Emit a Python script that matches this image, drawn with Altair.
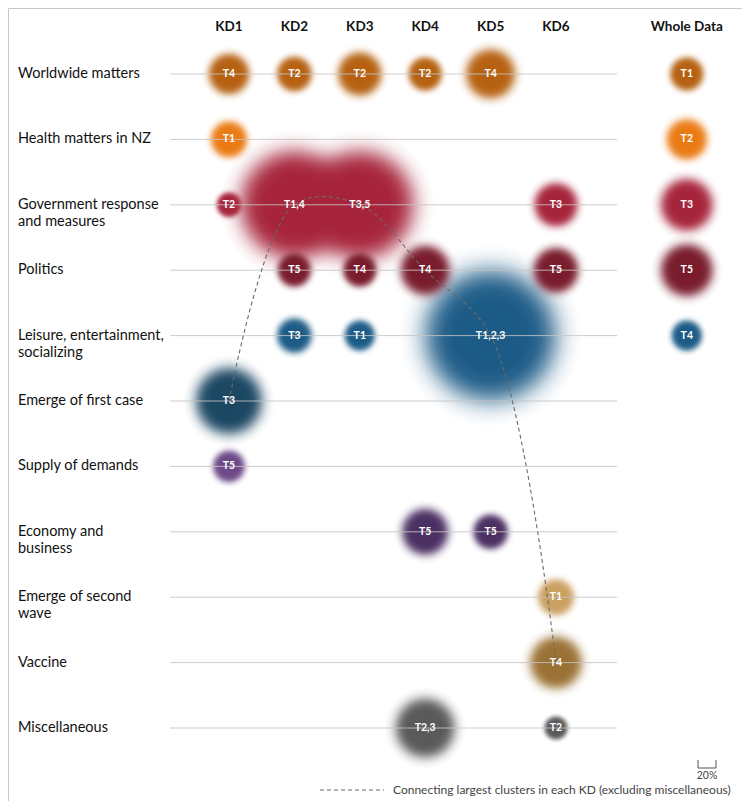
import altair as alt
import pandas as pd

# ---------------- data ----------------
columns = ["KD1", "KD2", "KD3", "KD4", "KD5", "KD6", "Whole Data"]
topics = [
    "Worldwide matters",
    "Health matters in NZ",
    "Government response\nand measures",
    "Politics",
    "Leisure, entertainment,\nsocializing",
    "Emerge of first case",
    "Supply of demands",
    "Economy and\nbusiness",
    "Emerge of second\nwave",
    "Vaccine",
    "Miscellaneous",
]
topic_colors = ["#b5600f", "#ea7a12", "#a6233a", "#781a2b", "#1b5a86", "#1a4662",
                "#6b4787", "#4a2e62", "#caa060", "#9a7033", "#585858"]

bub_topic = [0, 0, 0, 0, 0, 0,
             1, 1,
             2, 2, 2, 2, 2,
             3, 3, 3, 3, 3,
             4, 4, 4, 4,
             5,
             6,
             7, 7,
             8,
             9,
             10, 10]
bub_col = ["KD1", "KD2", "KD3", "KD4", "KD5", "Whole Data",
           "KD1", "Whole Data",
           "KD1", "KD2", "KD3", "KD6", "Whole Data",
           "KD2", "KD3", "KD4", "KD6", "Whole Data",
           "KD2", "KD3", "KD5", "Whole Data",
           "KD1",
           "KD1",
           "KD4", "KD5",
           "KD6",
           "KD6",
           "KD4", "KD6"]
bub_label = ["T4", "T2", "T2", "T2", "T4", "T1",
             "T1", "T2",
             "T2", "T1,4", "T3,5", "T3", "T3",
             "T5", "T4", "T4", "T5", "T5",
             "T3", "T1", "T1,2,3", "T4",
             "T3",
             "T5",
             "T5", "T5",
             "T1",
             "T4",
             "T2,3", "T2"]
bub_size = [15.7, 11.5, 18.0, 10.6, 23.1, 10.6,
            12.5, 15.7,
            5.8, 112.0, 112.0, 18.0, 25.9,
            10.6, 10.6, 23.1, 19.2, 25.9,
            11.5, 8.8, 165.0, 8.8,
            42.3,
            9.7,
            20.5, 11.5,
            12.5,
            25.9,
            33.6, 5.1]

legend_text = "Connecting largest clusters in each KD (excluding miscellaneous)"
scale_text = "20%"

# ---------------- tables ----------------
def col_pos(c):
    i = columns.index(c) + 1
    return i + 1 if c == "Whole Data" else i

df = pd.DataFrame({
    "topic": [topics[t].replace("\n", " ") for t in bub_topic],
    "tindex": bub_topic,
    "row": bub_topic,
    "col": bub_col,
    "xpos": [col_pos(c) for c in bub_col],
    "label": bub_label,
    "size": bub_size,
})

hdr = pd.DataFrame({"col": columns, "xpos": [col_pos(c) for c in columns]})
rows = pd.DataFrame({"row": list(range(len(topics))), "name": topics})
line1 = pd.DataFrame({"row": rows["row"], "txt": [t.split("\n")[0] for t in topics]})
line2 = pd.DataFrame({"row": [r for r, t in enumerate(topics) if "\n" in t],
                      "txt": [t.split("\n")[1] for t in topics if "\n" in t]})

kd = df[(df["col"] != "Whole Data") & (df["tindex"] != len(topics) - 1)]
largest = kd.loc[kd.groupby("col")["size"].idxmax()].sort_values("xpos")

# ---------------- scales ----------------
W, H = 734, 793
xs = alt.Scale(domain=[-2.379, 8.844], nice=False, zero=False)
ys = alt.Scale(domain=[-1.009, 11.116], reverse=True, nice=False, zero=False)
ss = alt.Scale(domain=[0, 150], range=[0, 30300])
FONT = "Lato"


def rgba(h, a):
    h = h.lstrip("#")
    r, g, b = int(h[0:2], 16), int(h[2:4], 16), int(h[4:6], 16)
    return f"rgba({r},{g},{b},{a})"


# soft (blurred) edge profile
edge = [(0, 1), (0.4, 0.99), (0.5, 0.94), (0.55, 0.875), (0.6, 0.78), (0.65, 0.65),
        (0.7, 0.5), (0.75, 0.35), (0.8, 0.22), (0.85, 0.125), (0.9, 0.062),
        (0.95, 0.027), (1, 0)]


def grad(h):
    return alt.RadialGradient(
        gradient="radial", x1=0.5, y1=0.5, r1=0, x2=0.5, y2=0.5, r2=0.5,
        stops=[alt.GradientStop(offset=o, color=rgba(h, a)) for o, a in edge],
    )


layers = []

# bubbles, largest topics drawn first
order = sorted(range(len(topics)), key=lambda t: -max(s for s, tt in zip(bub_size, bub_topic) if tt == t))
for t in order:
    sub = df[df["tindex"] == t]
    layers.append(
        alt.Chart(sub).mark_circle(fill=grad(topic_colors[t]), opacity=1, strokeWidth=0).encode(
            x=alt.X("xpos:Q", scale=xs, axis=None),
            y=alt.Y("row:Q", scale=ys, axis=None),
            size=alt.Size("size:Q", scale=ss, legend=None),
        )
    )

# row guide lines (drawn over bubbles, as in the original)
layers.append(
    alt.Chart(rows).mark_rule(color="#c4c4c4", strokeWidth=1, opacity=0.85).encode(
        y=alt.Y("row:Q", scale=ys, axis=None),
        x=alt.value(162), x2=alt.value(609),
    )
)

# dashed curve through largest clusters
layers.append(
    alt.Chart(largest).mark_line(color="#6a6a6a", strokeDash=[4, 3], strokeWidth=1.1,
                                 interpolate="catmull-rom").encode(
        x=alt.X("xpos:Q", scale=xs, axis=None),
        y=alt.Y("row:Q", scale=ys, axis=None),
        order="xpos:Q",
    )
)

# bubble labels
layers.append(
    alt.Chart(df).mark_text(color="white", font=FONT, fontSize=10.5, fontWeight="bold",
                            align="center", baseline="middle").encode(
        x=alt.X("xpos:Q", scale=xs, axis=None),
        y=alt.Y("row:Q", scale=ys, axis=None),
        text="label:N",
    )
)

# column headers
layers.append(
    alt.Chart(hdr).mark_text(color="#111111", font=FONT, fontSize=13.5, fontWeight="bold",
                             align="center", baseline="middle").encode(
        x=alt.X("xpos:Q", scale=xs, axis=None),
        y=alt.value(19),
        text="col:N",
    )
)

# row labels (two lines where needed)
layers.append(
    alt.Chart(line1).mark_text(color="#111111", font=FONT, fontSize=14.5, align="left",
                               baseline="middle").encode(
        x=alt.value(10), y=alt.Y("row:Q", scale=ys, axis=None), text="txt:N",
    )
)
layers.append(
    alt.Chart(line2).mark_text(color="#111111", font=FONT, fontSize=14.5, align="left",
                               baseline="middle", dy=17).encode(
        x=alt.value(10), y=alt.Y("row:Q", scale=ys, axis=None), text="txt:N",
    )
)

one = pd.DataFrame({"k": [0]})

# scale bar
layers.append(alt.Chart(one).mark_rule(color="#555555", strokeWidth=1).encode(
    x=alt.value(690), x2=alt.value(708), y=alt.value(760)))
layers.append(alt.Chart(one).mark_rule(color="#555555", strokeWidth=1).encode(
    x=alt.value(690), y=alt.value(752), y2=alt.value(760)))
layers.append(alt.Chart(one).mark_rule(color="#555555", strokeWidth=1).encode(
    x=alt.value(708), y=alt.value(752), y2=alt.value(760)))
layers.append(alt.Chart(one).mark_text(text=scale_text, color="#444444", font=FONT, fontSize=10.5,
                                       align="center", baseline="middle").encode(
    x=alt.value(699), y=alt.value(768)))

# legend for dashed line
layers.append(alt.Chart(one).mark_rule(color="#6a6a6a", strokeDash=[4, 3], strokeWidth=1.1).encode(
    x=alt.value(312), x2=alt.value(376), y=alt.value(782)))
layers.append(alt.Chart(one).mark_text(text=legend_text, color="#444444", font=FONT, fontSize=12,
                                       align="left", baseline="middle").encode(
    x=alt.value(385), y=alt.value(782)))

chart = alt.layer(*layers).properties(
    width=W, height=H, padding=0, autosize=alt.AutoSizeParams(type="none"),
    background="white",
).configure_view(stroke="#c8c8c8", strokeWidth=1)

chart.save("out.html", embed_options={"renderer": "svg", "actions": False})
